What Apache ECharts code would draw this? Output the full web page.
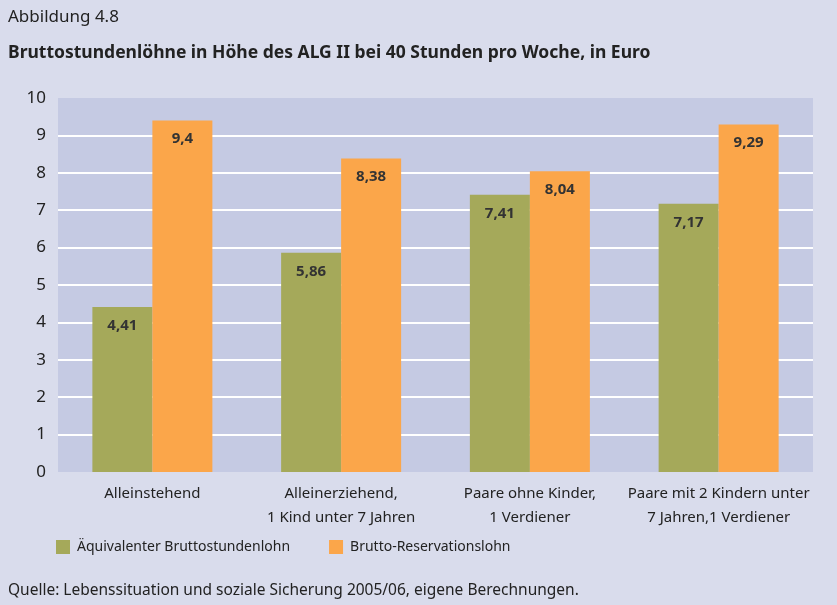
<!DOCTYPE html>
<html>
<head>
<meta charset="utf-8">
<script src="https://cdn.jsdelivr.net/npm/echarts@6/dist/echarts.min.js"></script>
<style>
  html, body { margin: 0; padding: 0; background: #d9dcec; }
  #chart { width: 837px; height: 605px; }
</style>
</head>
<body>
<div id="chart"></div>
<script>
const categories = [
  'Alleinstehend',
  'Alleinerziehend,\n1 Kind unter 7 Jahren',
  'Paare ohne Kinder,\n1 Verdiener',
  'Paare mit 2 Kindern unter\n7 Jahren,1 Verdiener'
];
const aequivalent = [4.41, 5.86, 7.41, 7.17];
const reservation = [9.4, 8.38, 8.04, 9.29];
const yTicks = [0, 10, 1];

const FONT = '"Noto Sans", sans-serif';
const fmt = p => String(p.value).replace('.', ',');

const chart = echarts.init(document.getElementById('chart'));

// Gitterlinien nur zwischen 1 und 9
const gridColors = [];
for (let i = yTicks[0]; i <= yTicks[1]; i += yTicks[2]) {
  gridColors.push(i === yTicks[0] || i === yTicks[1] ? 'rgba(0,0,0,0)' : '#ffffff');
}

const barLabel = {
  show: true, position: 'insideTop', distance: 11,
  formatter: fmt,
  fontFamily: FONT, fontSize: 15, fontWeight: 'bold', color: '#333'
};

const option = {
  backgroundColor: '#d9dcec',
  textStyle: { fontFamily: FONT },
  title: [
    {
      text: 'Abbildung 4.8',
      left: 8, top: 9, padding: 0,
      textStyle: { fontFamily: FONT, fontSize: 17, fontWeight: 'normal', color: '#222' }
    },
    {
      text: 'Bruttostundenlöhne in Höhe des ALG II bei 40 Stunden pro Woche, in Euro',
      left: 8, top: 44, padding: 0,
      textStyle: { fontFamily: FONT, fontSize: 17.5, fontWeight: 'bold', color: '#222' }
    },
    {
      text: 'Quelle: Lebenssituation und soziale Sicherung 2005/06, eigene Berechnungen.',
      left: 8, top: 583, padding: 0,
      textStyle: { fontFamily: FONT, fontSize: 15.5, fontWeight: 'normal', color: '#222' }
    }
  ],
  legend: {
    left: 56, top: 540, padding: 0,
    itemWidth: 14, itemHeight: 14, itemGap: 39,
    icon: 'rect',
    textStyle: { fontFamily: FONT, fontSize: 14, color: '#222', padding: [0, 0, 0, 2] },
    data: ['Äquivalenter Bruttostundenlohn', 'Brutto-Reservationslohn']
  },
  grid: {
    left: 58, right: 24, top: 98, bottom: 133,
    show: true, backgroundColor: '#c5cae3', borderWidth: 0
  },
  xAxis: {
    type: 'category',
    data: categories,
    axisLine: { show: false },
    axisTick: { show: false },
    axisLabel: {
      fontFamily: FONT, fontSize: 15, color: '#222',
      margin: 10, lineHeight: 24, interval: 0
    }
  },
  yAxis: {
    type: 'value',
    min: yTicks[0], max: yTicks[1], interval: yTicks[2],
    axisLine: { show: false },
    axisTick: { show: false },
    axisLabel: { fontFamily: FONT, fontSize: 17, color: '#222', margin: 12 },
    splitLine: { lineStyle: { color: gridColors, width: 2 } }
  },
  series: [
    {
      name: 'Äquivalenter Bruttostundenlohn',
      type: 'bar',
      data: aequivalent,
      barWidth: 60,
      barGap: '0%',
      itemStyle: { color: '#a5a95a' },
      label: barLabel
    },
    {
      name: 'Brutto-Reservationslohn',
      type: 'bar',
      data: reservation,
      barWidth: 60,
      itemStyle: { color: '#fba64a' },
      label: barLabel
    }
  ]
};

chart.setOption(option);
</script>
</body>
</html>
